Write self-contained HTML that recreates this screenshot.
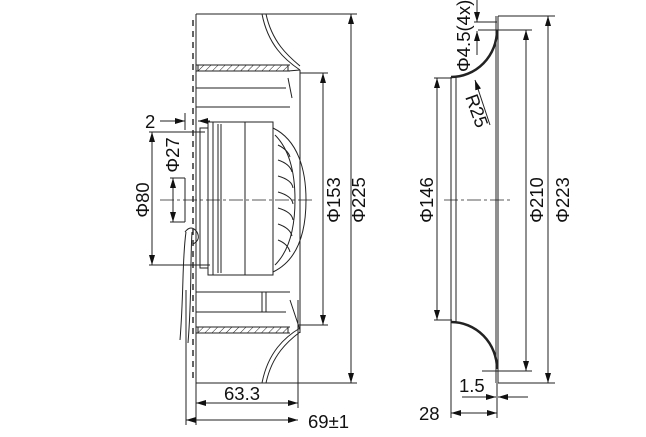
<!DOCTYPE html>
<html><head><meta charset="utf-8"><style>
html,body{margin:0;padding:0;background:#fff;}
svg{display:block;}
text{font-family:"Liberation Sans",sans-serif;font-size:18.5px;fill:#111;}
</style></head><body>
<svg width="646" height="437" viewBox="0 0 646 437" xmlns="http://www.w3.org/2000/svg">
<defs>
<marker id="a" viewBox="0 0 10 6" refX="10" refY="3" markerWidth="10" markerHeight="6" orient="auto-start-reverse" markerUnits="userSpaceOnUse"><path d="M0,0L10,3L0,6z" fill="#111"/></marker>
<pattern id="h" width="5" height="5" patternUnits="userSpaceOnUse" patternTransform="rotate(45)"><line x1="0" y1="0" x2="0" y2="5" stroke="#222" stroke-width="1"/></pattern>
</defs>
<g stroke="#222" stroke-width="1" fill="none">
<line x1="196" y1="14" x2="357" y2="14"/>
<line x1="196" y1="383" x2="357" y2="383"/>
<line x1="196" y1="14" x2="196" y2="425"/>
<line x1="193" y1="20" x2="193" y2="378" stroke-dasharray="6,5" stroke-width="1.4"/>
<line x1="186" y1="290" x2="186" y2="425"/>
<line x1="298" y1="300" x2="298" y2="408"/>
<line x1="300" y1="70" x2="300" y2="333"/>
<path d="M262,14 C268,45 285,60 300,70"/>
<path d="M266,14 C272,42 288,56 300,66"/>
<path d="M262,383 C268,352 285,337 300,328"/>
<path d="M266,383 C272,355 288,341 300,332"/>
<rect x="198" y="65" width="90" height="6" fill="url(#h)"/>
<line x1="196" y1="65" x2="290" y2="65"/><line x1="196" y1="71" x2="290" y2="71"/>
<rect x="198" y="327" width="90" height="6" fill="url(#h)"/>
<line x1="196" y1="327" x2="290" y2="327"/><line x1="196" y1="333" x2="290" y2="333"/>
<line x1="196" y1="107" x2="290" y2="107"/>
<line x1="196" y1="292" x2="290" y2="292"/>
<line x1="196" y1="88" x2="286" y2="88"/>
<line x1="196" y1="312" x2="286" y2="312"/>
<path d="M288,71 L300,70 M288,78 L292,98 M290,300 L300,330"/>
<line x1="262" y1="292" x2="262" y2="312"/><line x1="266" y1="292" x2="266" y2="312"/>
<rect x="200" y="128" width="8" height="140"/>
<rect x="208" y="122" width="65" height="153"/>
<line x1="213" y1="122" x2="213" y2="275"/>
<line x1="218" y1="124" x2="218" y2="273"/>
<line x1="221" y1="124" x2="221" y2="273"/>
<line x1="245" y1="122" x2="245" y2="275"/>
<path d="M273,128 C298,140 306,170 306,200 C306,232 298,260 273,272"/>
<path d="M275,135 C290,150 295,175 295,200 C295,225 290,250 275,265"/>
<path d="M278,145 q10,5 12,12 M278,160 q12,4 14,12 M278,176 q14,4 15,12 M278,192 q14,4 15,12 M278,208 q14,4 15,12 M278,224 q12,4 14,12 M278,240 q10,4 12,12"/>
<path d="M186,232 C182,260 184,290 180,340 M192,232 C190,265 192,295 188,343"/>
<path d="M185,232 q6,-8 12,0 q4,8 -4,12"/>
<line x1="160" y1="200" x2="315" y2="200" stroke-dasharray="14,3,3,3" stroke-width="0.8"/>
<line x1="152" y1="132" x2="152" y2="265" marker-start="url(#a)" marker-end="url(#a)"/>
<line x1="149" y1="132" x2="205" y2="132"/><line x1="149" y1="265" x2="210" y2="265"/>
<line x1="173" y1="178" x2="173" y2="222" marker-start="url(#a)" marker-end="url(#a)"/>
<line x1="170" y1="178" x2="185" y2="178"/><line x1="170" y1="222" x2="185" y2="222"/>
<line x1="185" y1="178" x2="185" y2="222"/>
<line x1="185" y1="113" x2="185" y2="130"/>
<line x1="160" y1="121" x2="185" y2="121" marker-end="url(#a)"/>
<line x1="210" y1="121" x2="198" y2="121" marker-end="url(#a)"/>
<line x1="323" y1="73" x2="323" y2="325" marker-start="url(#a)" marker-end="url(#a)"/>
<line x1="300" y1="73" x2="328" y2="73"/><line x1="298" y1="325" x2="328" y2="325"/>
<line x1="351" y1="14" x2="351" y2="383" marker-start="url(#a)" marker-end="url(#a)"/>
<line x1="196" y1="403" x2="298" y2="403" marker-start="url(#a)" marker-end="url(#a)"/>
<line x1="186" y1="420" x2="298" y2="420" marker-start="url(#a)" marker-end="url(#a)"/>
<line x1="496" y1="16" x2="496" y2="383"/>
<line x1="498" y1="16" x2="498" y2="383"/>
<line x1="451" y1="77" x2="451" y2="418"/>
<line x1="456" y1="77" x2="456" y2="322"/>
<path d="M451,77 A46,47 0 0 0 497,30" stroke-width="2.5"/>
<path d="M451,322 A46,47 0 0 1 497,369" stroke-width="2.5"/>
<line x1="444" y1="200" x2="512" y2="200" stroke-dasharray="14,3,3,3" stroke-width="0.8"/>
<line x1="498" y1="16" x2="555" y2="16"/><line x1="498" y1="383" x2="555" y2="383"/>
<line x1="548" y1="16" x2="548" y2="383" marker-start="url(#a)" marker-end="url(#a)"/>
<line x1="478" y1="30" x2="532" y2="30"/><line x1="482" y1="371" x2="532" y2="371"/>
<line x1="526" y1="30" x2="526" y2="371" marker-start="url(#a)" marker-end="url(#a)"/>
<line x1="434" y1="78" x2="452" y2="78"/><line x1="434" y1="320" x2="452" y2="320"/>
<line x1="437" y1="78" x2="437" y2="320" marker-start="url(#a)" marker-end="url(#a)"/>
<line x1="477" y1="0" x2="477" y2="22" marker-end="url(#a)"/>
<line x1="477" y1="55" x2="477" y2="31" marker-end="url(#a)"/>
<line x1="474" y1="22" x2="497" y2="22"/>
<line x1="490" y1="125" x2="475" y2="80" marker-end="url(#a)"/>
<line x1="462" y1="397" x2="496" y2="397" marker-end="url(#a)"/>
<line x1="528" y1="397" x2="498" y2="397" marker-end="url(#a)"/>
<line x1="451" y1="413" x2="497" y2="413" marker-start="url(#a)" marker-end="url(#a)"/>
<line x1="497" y1="383" x2="497" y2="418"/>
</g>
<text x="145" y="128">2</text>
<text transform="translate(149,200) rotate(-90)" text-anchor="middle">Φ80</text>
<text transform="translate(179,155) rotate(-90)" text-anchor="middle">Φ27</text>
<text transform="translate(340,200) rotate(-90)" text-anchor="middle">Φ153</text>
<text transform="translate(365,200) rotate(-90)" text-anchor="middle">Φ225</text>
<text x="224" y="400">63.3</text>
<text x="308" y="428">69±1</text>
<text transform="translate(433,200) rotate(-90)" text-anchor="middle">Φ146</text>
<text transform="translate(543,200) rotate(-90)" text-anchor="middle">Φ210</text>
<text transform="translate(569,200) rotate(-90)" text-anchor="middle">Φ223</text>
<text transform="translate(470,72) rotate(-90)">Φ4.5(4x)</text>
<text transform="translate(465,97) rotate(70)">R25</text>
<text x="459" y="392">1.5</text>
<text x="419" y="420">28</text>
</svg>
</body></html>
